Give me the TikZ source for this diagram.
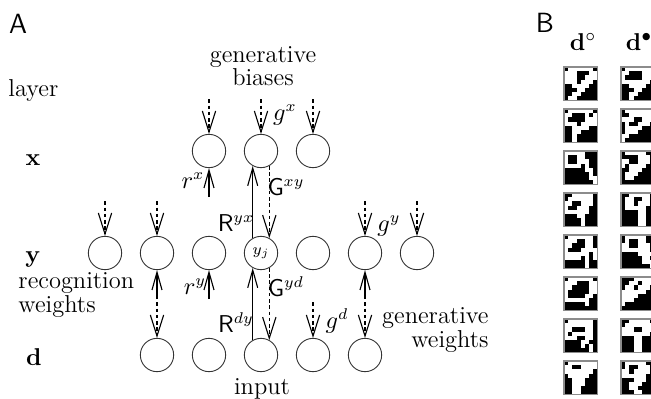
\documentclass[tikz,border=0pt]{standalone}
\usepackage{amsmath}
\usepackage{tikz}
\usetikzlibrary{arrows.meta,positioning,calc}

% 8x8 binary patch: left, top, rows (1 = black)
\newcommand{\digitpatch}[3]{%
  \fill[white] (#1,#2) rectangle ++(33.5,33.5);
  \foreach \row [count=\r from 0] in {#3} {
    \foreach \v [count=\c from 0] in \row {
      \ifnum\v=1 \fill[black] (#1+\c*4.1875,#2+\r*4.1875) rectangle ++(4.1875,4.1875);\fi
    }
  }
  \draw[black!45, line width=0.5pt] (#1,#2) rectangle ++(33.5,33.5);
}

\tikzset{
  unit/.style={circle, draw=black!80, line width=0.4pt, minimum size=15pt, inner sep=0pt},
  gen/.style={dash pattern=on 1.6pt off 1.2pt, line width=0.5pt, -{Straight Barb[length=9.5pt,width=6pt]}},
  rec/.style={line width=0.5pt, -{Straight Barb[length=8pt,width=4.5pt]}},
  txt/.style={font=\fontsize{11}{10}\selectfont, inner sep=0pt},
  lbl/.style={font=\fontsize{10.5}{12}\selectfont, inner sep=0pt},
  panel/.style={font=\sffamily\fontsize{12.5}{14}\selectfont, inner sep=0pt}
}

\begin{document}
\begin{tikzpicture}[x=0.45pt, y=-0.45pt]
    \useasboundingbox (0,0) rectangle (651,398);

    % Panel A
    \node[panel] (A) at (18,24) {A};
    \node[txt, anchor=base west] (layerlbl) at (8,96) {layer};
    \node[txt, anchor=base] (xlbl) at (33,165) {$\mathbf{x}$};
    \node[txt, anchor=base] (ylbl) at (33,262) {$\mathbf{y}$};
    \node[txt, anchor=base] (dlbl) at (34,365) {$\mathbf{d}$};
    \node[txt, align=left, anchor=west, font=\fontsize{11}{8.5}\selectfont] (recw) at (18,295) {recognition\\weights};
    \node[txt, align=center, font=\fontsize{11}{10.6}\selectfont] (genb) at (263,66) {generative\\biases};
    \node[txt, align=right, anchor=east, font=\fontsize{11}{9.2}\selectfont] (genw) at (489,330) {generative\\weights};
    \node[txt] (inp) at (262,389) {input};

    % units
    \foreach \i in {3,4,5}
        \node[unit] (x\i) at (53+52*\i,151) {};
    \foreach \i in {1,2,3,5,6,7}
        \node[unit] (y\i) at (53+52*\i,253) {};
    \node[unit, font=\scriptsize] (y4) at (261,253) {$y_j$};
    \foreach \i in {2,...,6}
        \node[unit] (d\i) at (53+52*\i,355) {};

    % generative biases
    \foreach \n in {x3,x4,x5,y1,y2,y6,y7} {
        \coordinate[above=15.5pt of \n] (g\n);
        \draw[gen] (g\n) -- (\n);
    }
    \foreach \n in {d2,d5,d6} {
        \coordinate[above=16pt of \n] (g\n);
        \draw[gen] (g\n) -- (\n);
    }

    % recognition biases
    \foreach \n in {x3,y2,y3,y6} {
        \coordinate[below=13pt of \n] (r\n);
        \draw[rec] (r\n) -- (\n);
    }

    % weights to and from y_j
    \draw[rec] (y4.119) -- (x4.241);
    \draw[gen] (x4.299) -- (y4.61);
    \draw[rec] (d4.119) -- (y4.241);
    \draw[gen] (y4.299) -- (d4.61);

    \node[lbl] (gxl) at (285,115) {$g^x$};
    \node[lbl] (rxl) at (193,181) {$r^x$};
    \node[lbl] (Gxyl) at (286,187) {$\mathsf{G}^{xy}$};
    \node[lbl] (Ryxl) at (236,223) {$\mathsf{R}^{yx}$};
    \node[lbl] (gyl) at (389,226) {$g^y$};
    \node[lbl] (ryl) at (195,287) {$r^y$};
    \node[lbl] (Gydl) at (286,287) {$\mathsf{G}^{yd}$};
    \node[lbl] (Rdyl) at (236,323) {$\mathsf{R}^{dy}$};
    \node[lbl] (gdl) at (337,321) {$g^d$};

    % Panel B
    \node[panel] (B) at (545,23) {B};
    \node[txt] (dzero) at (583,42) {$\mathbf{d}^{\circ}$};
    \node[txt] (done) at (639,42) {$\mathbf{d}^{\bullet}$};

    % d° column
    \digitpatch{564}{67}{{1,0,0,0,0,0,0,1},{0,0,0,1,1,1,0,0},{0,0,0,1,1,0,0,0},{0,0,0,1,0,0,0,1},{1,1,0,0,0,0,1,1},{1,1,1,0,0,1,1,1},{1,1,0,0,1,1,1,1},{1,0,0,1,1,1,1,1}}
    \digitpatch{564}{109}{{1,0,0,0,0,0,0,1},{0,0,1,1,1,0,1,0},{0,1,1,1,1,0,0,0},{0,0,0,1,0,0,0,0},{1,1,0,0,0,0,1,1},{1,1,0,0,1,1,1,1},{1,1,0,1,1,1,1,1},{1,1,0,1,1,1,1,1}}
    \digitpatch{564}{151}{{0,0,0,0,0,1,1,1},{0,1,1,0,0,1,1,1},{0,1,1,0,0,0,1,1},{0,0,0,0,1,0,1,1},{1,1,1,1,1,0,0,1},{1,1,1,1,1,1,0,1},{1,1,1,1,1,1,0,0},{1,1,1,1,1,1,1,0}}
    \digitpatch{564}{193}{{1,1,0,0,0,0,0,1},{1,0,0,0,0,0,0,1},{0,0,1,1,0,0,0,1},{0,1,1,0,0,0,1,1},{0,0,0,0,0,0,1,1},{1,1,1,0,0,1,1,1},{1,1,1,1,0,1,1,1},{1,1,1,1,0,1,1,1}}
    \digitpatch{564}{235}{{1,0,0,0,0,0,0,1},{0,0,0,1,1,0,0,1},{0,0,1,1,1,0,0,1},{0,1,1,1,0,0,0,0},{0,0,0,0,0,0,1,0},{0,0,0,0,1,0,1,0},{1,1,1,1,1,0,1,1},{1,1,1,1,1,0,1,1}}
    \digitpatch{564}{277}{{1,0,0,0,0,0,0,1},{0,0,0,1,1,1,0,0},{0,0,1,1,1,1,0,0},{0,1,1,1,1,1,0,0},{0,1,1,1,1,0,0,1},{0,0,0,0,0,0,1,1},{1,1,1,1,1,0,1,1},{1,1,1,1,1,1,1,1}}
    \digitpatch{564}{319}{{1,0,0,0,0,0,0,1},{0,0,0,0,0,0,0,1},{0,0,1,1,1,0,0,1},{0,1,0,0,0,0,0,1},{0,0,0,1,1,0,0,1},{1,1,1,1,0,0,1,1},{1,1,1,1,0,1,0,1},{1,1,1,1,1,1,0,1}}
    \digitpatch{564}{361}{{1,0,0,0,0,0,0,0},{0,0,1,1,0,0,0,0},{0,0,0,0,0,0,0,1},{1,0,0,0,0,0,1,1},{1,1,0,0,0,1,1,1},{1,1,0,0,0,1,1,1},{1,1,0,0,1,1,1,1},{1,1,0,0,1,1,1,1}}

    % d• column
    \digitpatch{621}{67}{{1,0,0,0,0,0,0,0},{0,0,1,1,1,0,0,0},{0,1,1,1,1,0,0,0},{0,0,0,0,0,0,0,1},{1,1,0,0,0,0,1,1},{1,1,1,0,0,1,1,1},{1,1,0,0,1,1,1,1},{1,1,0,1,1,1,1,1}}
    \digitpatch{621}{109}{{1,0,0,0,0,0,0,0},{1,1,0,0,0,0,0,0},{0,0,0,1,1,0,0,0},{1,0,1,1,0,0,0,1},{1,0,0,0,0,1,1,1},{1,0,0,0,1,1,1,1},{0,0,1,1,1,1,1,1},{0,1,1,1,1,1,1,1}}
    \digitpatch{621}{151}{{1,0,0,0,0,0,1,1},{1,1,1,1,0,0,0,1},{0,0,1,1,0,0,0,1},{0,1,0,0,0,0,1,1},{1,1,0,0,0,1,1,1},{1,0,0,0,1,1,1,1},{1,0,0,1,1,1,1,1},{1,1,1,1,1,1,1,1}}
    \digitpatch{621}{193}{{1,1,0,0,0,0,0,1},{1,0,0,1,1,0,0,1},{1,0,0,1,0,0,0,1},{1,0,0,0,0,0,1,1},{1,1,1,1,0,0,1,1},{1,1,1,1,0,0,1,1},{1,1,1,1,0,0,1,1},{1,1,1,1,0,0,1,1}}
    \digitpatch{621}{235}{{1,0,0,0,0,0,1,1},{1,0,1,1,0,0,1,1},{0,0,1,1,0,0,0,1},{0,0,0,0,0,0,0,1},{1,1,1,1,0,0,0,0},{1,1,1,1,1,0,0,1},{1,1,1,1,1,0,0,0},{1,1,1,1,1,1,1,0}}
    \digitpatch{621}{277}{{1,1,1,0,0,0,0,0},{1,1,0,0,1,0,0,0},{1,0,0,1,0,0,0,1},{0,0,0,0,0,0,1,1},{0,0,0,0,1,1,1,1},{0,0,0,1,1,1,1,1},{0,1,1,1,1,1,1,1},{1,1,1,1,1,1,1,1}}
    \digitpatch{621}{319}{{1,1,0,0,0,0,0,1},{1,0,0,0,0,0,0,0},{0,0,0,1,1,0,0,0},{0,0,0,0,0,0,0,1},{1,1,1,0,0,1,1,1},{1,1,1,0,0,1,1,1},{1,1,1,0,0,1,1,1},{1,1,1,0,0,1,1,1}}
    \digitpatch{621}{361}{{1,0,0,0,0,0,1,1},{1,0,1,1,0,0,0,1},{0,0,1,0,0,0,0,1},{0,0,0,0,0,0,1,1},{1,1,1,0,0,0,1,1},{1,1,0,0,0,1,1,1},{1,1,0,0,1,1,1,1},{1,1,1,0,0,1,1,1}}
\end{tikzpicture}
\end{document}
